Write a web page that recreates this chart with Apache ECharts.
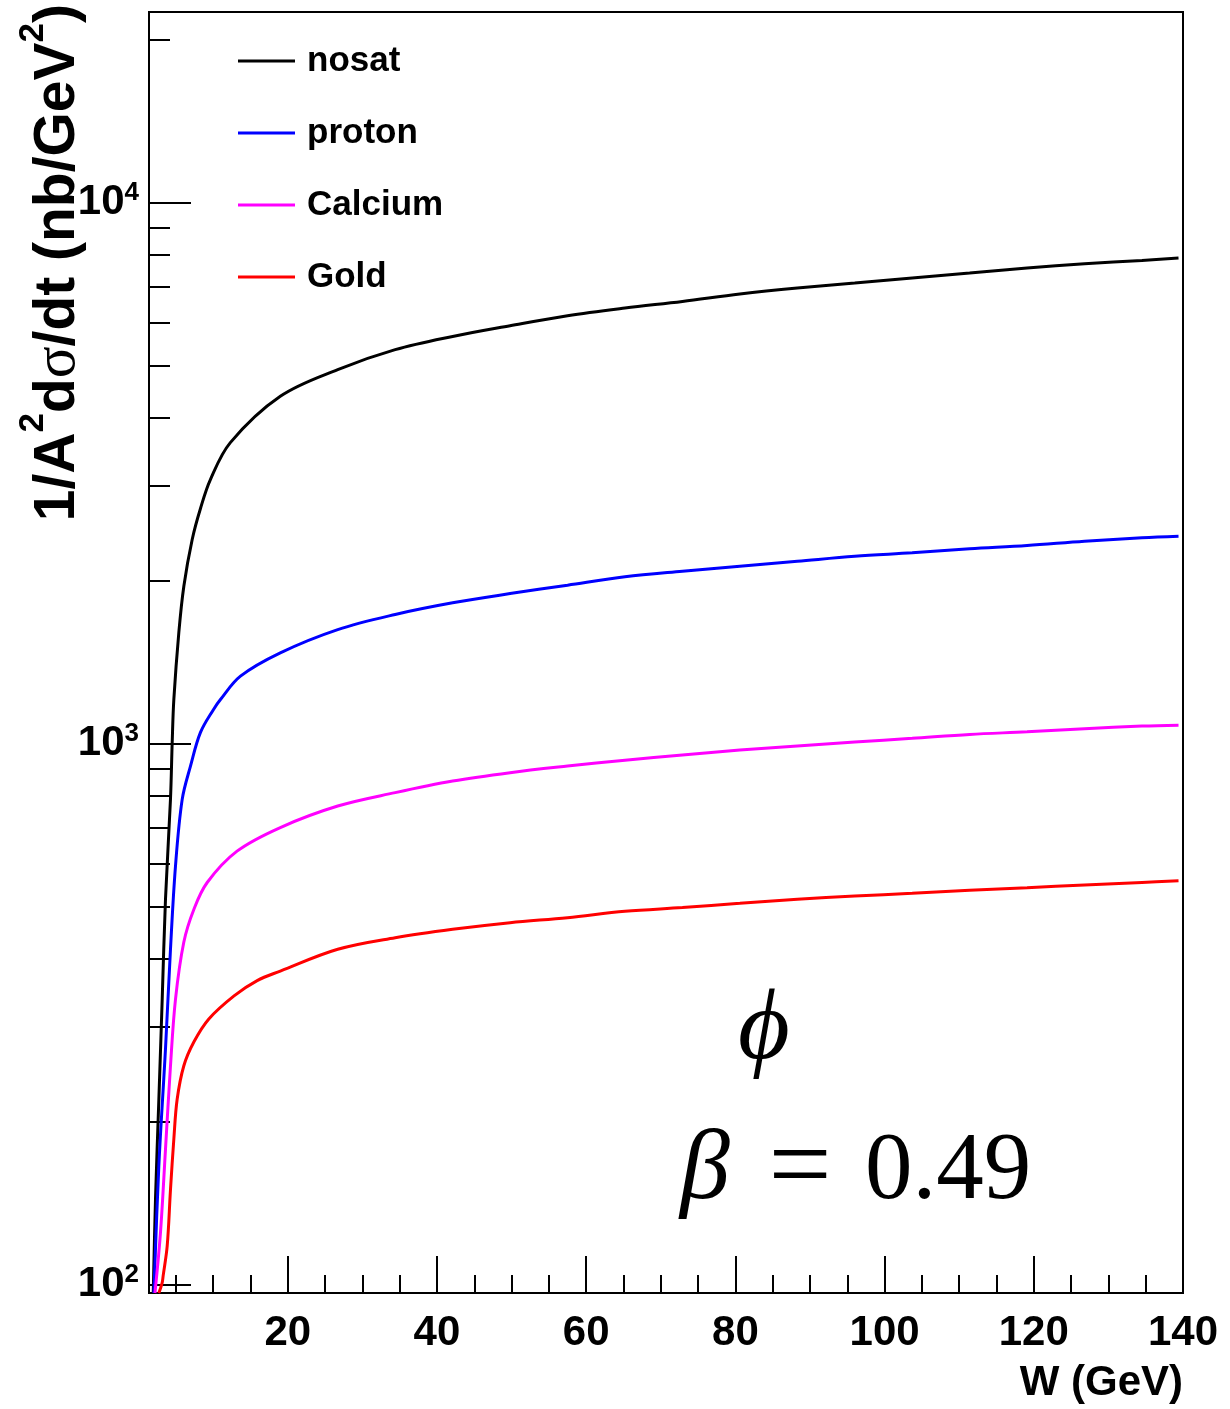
<!DOCTYPE html>
<html>
<head>
<meta charset="utf-8">
<title>phi, beta = 0.49</title>
<script src="https://cdn.jsdelivr.net/npm/echarts@6/dist/echarts.min.js"></script>
<style>
html, body { margin: 0; padding: 0; background: #fff; }
#main { width: 1230px; height: 1409px; }
</style>
</head>
<body>
<div id="main"></div>
<script>
// W (GeV) 以及各条曲线的数值
var wNosat = [1.97, 2.27, 2.72, 3.17, 3.61, 4.28, 4.51, 4.73, 5.4, 6.07, 7.19, 8.3, 9.63, 12.3, 19.0, 26.7, 34.4, 42.1, 49.8, 57.5, 65.2, 72.9, 80.6, 88.3, 96.0, 103.7, 111.4, 119.1, 126.8, 134.5, 139.4];
var nosat = [96.6, 144, 220, 337, 516, 790, 1006, 1207, 1605, 1954, 2384, 2720, 3076, 3600, 4384, 4911, 5346, 5656, 5920, 6178, 6383, 6565, 6775, 6950, 7099, 7251, 7406, 7565, 7705, 7814, 7894];

var wProton = [2.05, 2.72, 3.61, 4.28, 4.95, 5.85, 6.96, 8.3, 10.05, 10.98, 13.66, 19.0, 26.7, 34.4, 42.1, 49.8, 57.5, 65.2, 72.9, 80.6, 88.3, 96.0, 103.7, 111.4, 119.1, 126.8, 134.5, 139.4];
var proton = [96.6, 166, 273, 417, 594, 789, 909, 1049, 1157, 1207, 1333, 1472, 1625, 1733, 1821, 1894, 1963, 2034, 2083, 2128, 2173, 2220, 2253, 2291, 2323, 2366, 2401, 2417];

var wCalcium = [2.2, 2.94, 3.61, 4.28, 4.95, 6.07, 7.41, 9.2, 13.2, 19.0, 26.7, 34.4, 42.1, 49.8, 57.5, 65.2, 72.9, 80.6, 88.3, 96.0, 103.7, 111.4, 119.1, 126.8, 134.5, 139.4];
var calcium = [96.6, 125, 178, 254, 337, 430, 494, 554, 633, 700, 767, 812, 853, 884, 909, 932, 953, 973, 990, 1007, 1023, 1040, 1052, 1066, 1078, 1082];

var wGold = [2.72, 3.17, 3.3, 3.84, 4.28, 4.73, 5.17, 6.07, 7.41, 9.42, 12.8, 15.9, 19.0, 26.7, 34.4, 42.1, 49.8, 57.5, 65.2, 72.9, 80.6, 88.3, 96.0, 103.7, 111.4, 119.1, 126.8, 134.5, 139.4];
var gold = [96.6, 101, 104, 118, 150, 186, 220, 254, 281, 310, 342, 365, 380, 417, 438, 454, 467, 477, 490, 498, 507, 516, 523, 529, 536, 542, 548, 554, 558];

// 刻度
var xMajor = [20, 40, 60, 80, 100, 120, 140];
var xMinor = [5, 10, 15, 25, 30, 35, 45, 50, 55, 65, 70, 75, 85, 90, 95, 105, 110, 115, 125, 130, 135];
var yMajor = [100, 1000, 10000];
var yMinor = [200, 300, 400, 500, 600, 700, 800, 900, 2000, 3000, 4000, 5000, 6000, 7000, 8000, 9000, 20000];

var xMin = 1.4, xMax = 140;
var yMin = 96.6, yMax = 22490;

(function () {
    var myChart = echarts.init(document.getElementById('main'));

    function pairs(ws, vs) {
        return ws.map(function (w, i) { return [w, vs[i]]; });
    }
    function lg(v) { return Math.log10(v); }

    var fontSans = 'Liberation Sans, Arial, Helvetica, sans-serif';
    var fontSerif = 'Liberation Serif, DejaVu Serif, serif';

    var lineSeries = function (name, color, ws, vs) {
        return {
            name: name,
            type: 'line',
            xAxisIndex: 0,
            yAxisIndex: 0,
            showSymbol: false,
            symbol: 'none',
            smooth: 0.35,
            clip: true,
            data: pairs(ws, vs),
            lineStyle: { color: color, width: 3 },
            itemStyle: { color: color }
        };
    };

    var option = {
        backgroundColor: '#ffffff',
        animation: false,
        grid: {
            left: 149,
            right: 47,
            top: 12,
            bottom: 116,
            show: true,
            borderColor: '#000',
            borderWidth: 2,
            outerBoundsMode: 'none'
        },
        legend: {
            orient: 'vertical',
            left: 238,
            top: 41,
            padding: 0,
            itemWidth: 57,
            itemHeight: 3,
            itemGap: 32,
            icon: 'rect',
            textStyle: {
                fontFamily: fontSans,
                fontWeight: 'bold',
                fontSize: 35,
                lineHeight: 40,
                color: '#000',
                padding: [0, 0, 0, 7]
            },
            data: ['nosat', 'proton', 'Calcium', 'Gold']
        },
        xAxis: [
            {
                // 主轴：画数据 + 大刻度 + 标签
                type: 'value',
                min: xMin,
                max: xMax,
                position: 'bottom',
                axisLine: { show: true, lineStyle: { color: '#000', width: 2 } },
                axisTick: {
                    show: true, inside: true, length: 37,
                    customValues: xMajor,
                    lineStyle: { color: '#000', width: 2 }
                },
                axisLabel: {
                    customValues: xMajor,
                    margin: 19,
                    color: '#000',
                    fontFamily: fontSans,
                    fontWeight: 'bold',
                    fontSize: 42
                },
                splitLine: { show: false }
            },
            {
                // 小刻度
                type: 'value',
                min: xMin,
                max: xMax,
                position: 'bottom',
                axisLine: { show: false },
                axisTick: {
                    show: true, inside: true, length: 18,
                    customValues: xMinor,
                    lineStyle: { color: '#000', width: 2 }
                },
                axisLabel: { show: false },
                splitLine: { show: false }
            }
        ],
        yAxis: [
            {
                // 对数轴，数据画在这里
                type: 'log',
                min: yMin,
                max: yMax,
                position: 'left',
                axisLine: { show: true, lineStyle: { color: '#000', width: 2 } },
                axisTick: { show: false },
                axisLabel: { show: false },
                splitLine: { show: false },
                minorTick: { show: false }
            },
            {
                // 大刻度 (log10 空间)
                type: 'value',
                min: lg(yMin),
                max: lg(yMax),
                position: 'left',
                axisLine: { show: false },
                axisTick: {
                    show: true, inside: true, length: 42,
                    customValues: yMajor.map(lg),
                    lineStyle: { color: '#000', width: 2 }
                },
                axisLabel: {
                    customValues: yMajor.map(lg),
                    margin: 10,
                    formatter: function (v) {
                        return '{b|10}{s|' + Math.round(v) + '}';
                    },
                    rich: {
                        b: {
                            fontFamily: fontSans, fontWeight: 'bold',
                            fontSize: 42, lineHeight: 46, color: '#000'
                        },
                        s: {
                            fontFamily: fontSans, fontWeight: 'bold',
                            fontSize: 26, lineHeight: 26, color: '#000',
                            verticalAlign: 'top'
                        }
                    }
                },
                splitLine: { show: false }
            },
            {
                // 小刻度
                type: 'value',
                min: lg(yMin),
                max: lg(yMax),
                position: 'left',
                axisLine: { show: false },
                axisTick: {
                    show: true, inside: true, length: 21,
                    customValues: yMinor.map(lg),
                    lineStyle: { color: '#000', width: 2 }
                },
                axisLabel: { show: false },
                splitLine: { show: false }
            }
        ],
        graphic: [
            {
                type: 'text',
                x: 58,
                y: 4,
                rotation: Math.PI / 2,
                style: {
                    text: '1/A{sup|2}d{sig|σ}/dt (nb/GeV{sup|2})',
                    align: 'right',
                    verticalAlign: 'middle',
                    fontFamily: fontSans,
                    fontWeight: 'bold',
                    fontSize: 57,
                    lineHeight: 84,
                    fill: '#000',
                    rich: {
                        sup: {
                            fontFamily: fontSans, fontWeight: 'bold',
                            fontSize: 35, lineHeight: 35, verticalAlign: 'top', fill: '#000'
                        },
                        sig: {
                            fontFamily: fontSerif, fontWeight: 'normal',
                            fontSize: 59, fill: '#000'
                        }
                    }
                }
            },
            {
                type: 'text',
                x: 1183,
                y: 1383,
                style: {
                    text: 'W (GeV)',
                    align: 'right',
                    verticalAlign: 'middle',
                    fontFamily: fontSans,
                    fontWeight: 'bold',
                    fontSize: 42,
                    fill: '#000'
                }
            },
            {
                type: 'text',
                x: 764,
                y: 1032,
                style: {
                    text: 'ϕ',
                    align: 'center',
                    verticalAlign: 'middle',
                    fontFamily: fontSerif,
                    fontStyle: 'italic',
                    fontSize: 100,
                    fill: '#000'
                }
            },
            {
                type: 'text',
                x: 705,
                y: 1172,
                style: {
                    text: 'β',
                    align: 'center',
                    verticalAlign: 'middle',
                    fontFamily: fontSerif,
                    fontStyle: 'italic',
                    fontSize: 100,
                    fill: '#000'
                }
            },
            {
                type: 'text',
                x: 800,
                y: 1172,
                style: {
                    text: '=',
                    align: 'center',
                    verticalAlign: 'middle',
                    fontFamily: fontSerif,
                    fontSize: 112,
                    fill: '#000'
                }
            },
            {
                type: 'text',
                x: 948,
                y: 1173,
                style: {
                    text: '0.49',
                    align: 'center',
                    verticalAlign: 'middle',
                    fontFamily: fontSerif,
                    fontSize: 95,
                    fill: '#000'
                }
            }
        ],
        series: [
            lineSeries('nosat', '#000000', wNosat, nosat),
            lineSeries('proton', '#0000ff', wProton, proton),
            lineSeries('Calcium', '#ff00ff', wCalcium, calcium),
            lineSeries('Gold', '#ff0000', wGold, gold)
        ]
    };

    myChart.setOption(option);
    window.addEventListener('resize', function () {
        myChart.resize();
    });
})();
</script>
</body>
</html>
